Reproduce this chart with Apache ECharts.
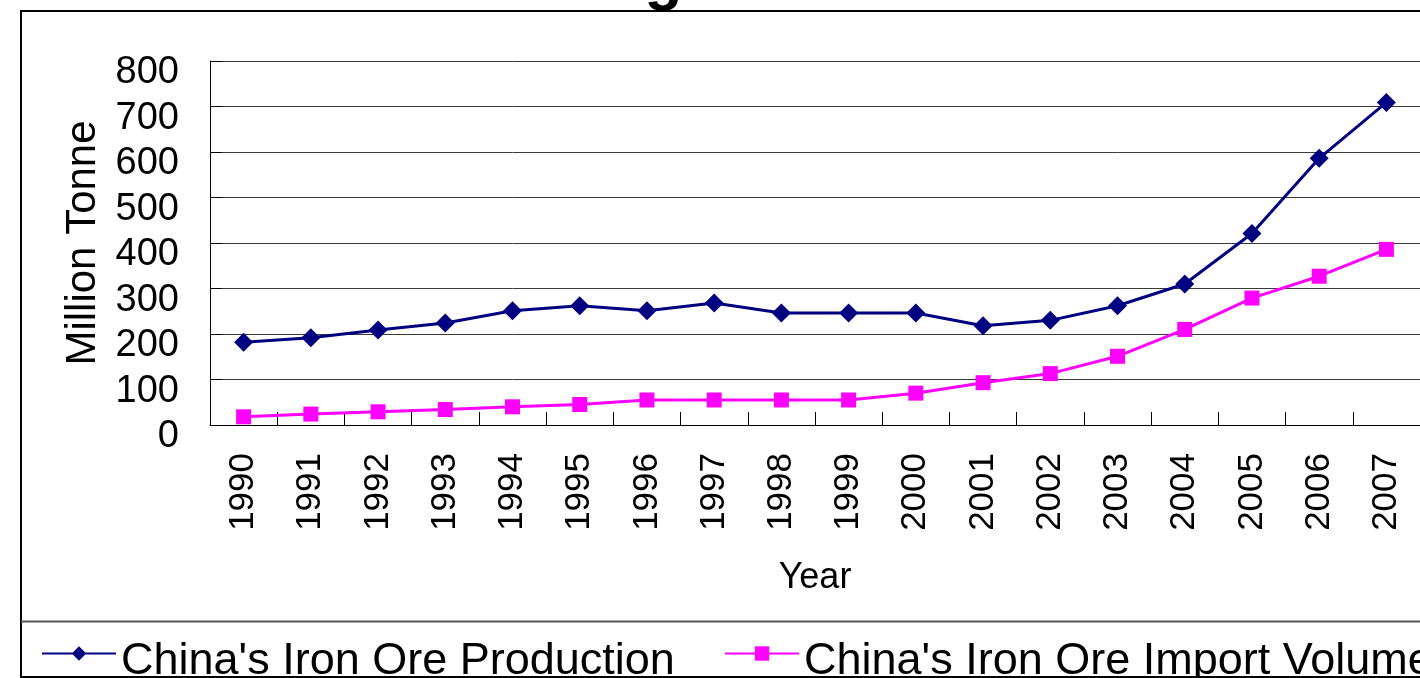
<!DOCTYPE html>
<html>
<head>
<meta charset="utf-8">
<script src="https://cdn.jsdelivr.net/npm/echarts@6/dist/echarts.min.js"></script>
<style>
  html, body { margin: 0; padding: 0; background: #fff; }
  #chart { width: 1420px; height: 678px; }
</style>
</head>
<body>
<div id="chart"></div>
<script>
// Years on the category axis
const years = ['1990','1991','1992','1993','1994','1995','1996','1997','1998',
               '1999','2000','2001','2002','2003','2004','2005','2006','2007'];

// China's iron ore production (million tonnes)
const production = [182, 192, 209, 224, 251, 262, 251, 268, 246,
                    246, 246, 218, 230, 262, 310, 421, 586, 709];

// China's iron ore import volume (million tonnes)
const imports = [18, 24, 29, 34, 40, 45, 55, 55, 55,
                 55, 70, 93, 113, 151, 210, 279, 327, 386];

// Value axis ticks
const yMin = 0, yMax = 800, yStep = 100;

const seriesNames = ["China's Iron Ore Production", "China's Iron Ore Import Volume"];

const FONT = 'Arial, "Liberation Sans", sans-serif';

// shared legend styling; rich padding pushes the text a little below the key
const legendCommon = {
  top: 618,
  orient: 'horizontal',
  itemWidth: 74, itemHeight: 18,
  formatter: name => '{t|' + name + '}',
  textStyle: {
    fontFamily: FONT, fontSize: 45, color: '#000',
    rich: { t: { fontFamily: FONT, fontSize: 45, lineHeight: 45, color: '#000',
                 padding: [16, 0, 0, 0] } }
  }
};

const chart = echarts.init(document.getElementById('chart'), null, { renderer: 'canvas' });

chart.setOption({
  backgroundColor: '#ffffff',
  animation: false,
  graphic: [
    // outer frame
    { type: 'rect', silent: true, z: 0,
      shape: { x: 21, y: 11, width: 1420, height: 666 },
      style: { fill: 'none', stroke: '#000', lineWidth: 2 } },
    // legend box divider
    { type: 'line', silent: true, z: 0,
      shape: { x1: 21, y1: 621.5, x2: 1420, y2: 621.5 },
      style: { stroke: '#555', lineWidth: 2 } },
    // chart title, mostly above the top edge
    { type: 'text', silent: true, z: 5, left: 'center', top: -50,
      style: { text: 'Figure 2', font: 'bold 62px ' + FONT, fill: '#000' } }
  ],
  grid: { left: 210, right: 0, top: 61, bottom: 253, containLabel: false },
  legend: [
    Object.assign({ left: 36, data: [seriesNames[0]] }, legendCommon),
    Object.assign({ left: 719, data: [seriesNames[1]] }, legendCommon)
  ],
  xAxis: {
    type: 'category',
    data: years,
    boundaryGap: true,
    name: 'Year',
    nameLocation: 'middle',
    nameGap: 135,
    nameTextStyle: { fontFamily: FONT, fontSize: 36, color: '#000' },
    axisLine: { lineStyle: { color: '#000', width: 1 } },
    axisTick: { show: true, inside: true, length: 13, alignWithLabel: false,
                lineStyle: { color: '#000' } },
    axisLabel: { rotate: 90, margin: 28, fontFamily: FONT, fontSize: 35, color: '#000' },
    splitLine: { show: false }
  },
  yAxis: {
    type: 'value',
    min: yMin, max: yMax, interval: yStep,
    name: 'Million Tonne',
    nameLocation: 'middle',
    nameGap: 88,
    nameTextStyle: { fontFamily: FONT, fontSize: 42, color: '#000' },
    axisLine: { show: true, lineStyle: { color: '#000', width: 1 } },
    axisTick: { show: true, inside: true, length: 12, lineStyle: { color: '#000' } },
    axisLabel: { margin: 31, fontFamily: FONT, fontSize: 38, color: '#000',
                 verticalAlign: 'top', lineHeight: 24 },
    splitLine: { show: true, lineStyle: { color: '#3a3a3a', width: 1 } }
  },
  series: [
    {
      name: seriesNames[0],
      type: 'line',
      data: production,
      symbol: 'diamond',
      symbolSize: 19,
      itemStyle: { color: '#000080' },
      lineStyle: { color: '#000080', width: 3 },
      z: 3
    },
    {
      name: seriesNames[1],
      type: 'line',
      data: imports,
      symbol: 'rect',
      symbolSize: 15,
      itemStyle: { color: '#ff00ff' },
      lineStyle: { color: '#ff00ff', width: 3 },
      z: 2
    }
  ]
});
</script>
</body>
</html>
